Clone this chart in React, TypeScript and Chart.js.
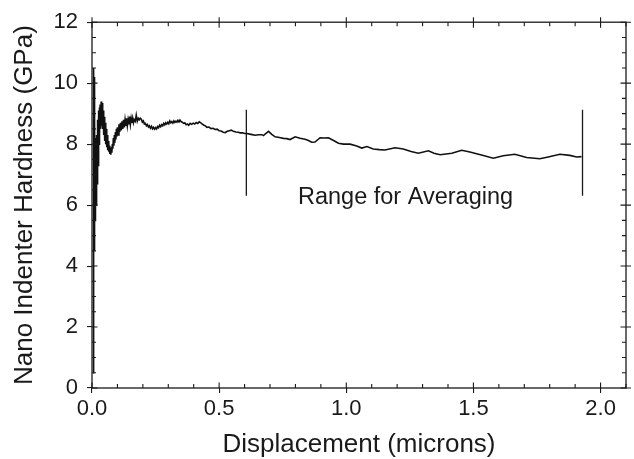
import { useEffect, useRef } from "react";
import { Chart, registerables } from "chart.js";

Chart.register(...registerables);

// Displacement (microns) and hardness (GPa)
const displacement = [
  0.004, 0.006, 0.005, 0.007, 0.006, 0.0075, 0.008, 0.0085, 0.009, 0.0095,
  0.01, 0.0105, 0.011, 0.0115, 0.012, 0.0125, 0.013, 0.0135, 0.014, 0.015,
  0.016, 0.017, 0.018, 0.019, 0.02, 0.021, 0.022, 0.023, 0.024, 0.025,
  0.026, 0.027, 0.028, 0.029, 0.03, 0.032, 0.034, 0.036, 0.038, 0.04,
  0.042, 0.044, 0.046, 0.048, 0.05, 0.052, 0.054, 0.056, 0.058, 0.06,
  0.062, 0.064, 0.066, 0.068, 0.07, 0.072, 0.074, 0.076, 0.078, 0.08,
  0.082, 0.084, 0.086, 0.088, 0.09, 0.092, 0.094, 0.096, 0.098, 0.1,
  0.103, 0.106, 0.109, 0.112, 0.115, 0.118, 0.121, 0.124, 0.127, 0.13,
  0.133, 0.136, 0.139, 0.142, 0.145, 0.148, 0.151, 0.154, 0.157, 0.16,
  0.163, 0.166, 0.17, 0.174, 0.178, 0.182, 0.186, 0.19,
  0.194, 0.198, 0.202, 0.206, 0.21, 0.214, 0.218, 0.222, 0.226, 0.23,
  0.234, 0.238, 0.242, 0.246, 0.25, 0.254, 0.258, 0.262, 0.266, 0.27,
  0.274, 0.278, 0.282, 0.286, 0.29, 0.294, 0.298, 0.302, 0.306, 0.31,
  0.314, 0.318, 0.322, 0.326, 0.33, 0.334, 0.338, 0.342, 0.346, 0.35,
  0.355, 0.36, 0.365, 0.37, 0.375, 0.38, 0.386, 0.392, 0.398, 0.404,
  0.41, 0.416, 0.422, 0.428, 0.434, 0.44, 0.446, 0.452, 0.46, 0.468,
  0.476, 0.484, 0.492, 0.5, 0.508, 0.516, 0.524, 0.532, 0.54, 0.548,
  0.556, 0.566, 0.575, 0.583, 0.592, 0.6, 0.609,
  0.625, 0.642, 0.655, 0.668, 0.674, 0.694,
  0.707, 0.72, 0.737, 0.753, 0.766, 0.779, 0.799, 0.818, 0.838, 0.851,
  0.864, 0.877, 0.897, 0.913, 0.93, 0.95, 0.969, 0.989, 1.015, 1.041,
  1.061, 1.081, 1.106, 1.13, 1.152, 1.192, 1.224, 1.255, 1.283, 1.323,
  1.345, 1.369, 1.415, 1.454, 1.486, 1.539, 1.578, 1.617, 1.663, 1.709,
  1.761, 1.794, 1.84, 1.879, 1.906, 1.925,
];

const hardness = [
  0.5, 4.0, 1.5, 8.0, 3.0, 10.5, 5.0, 10.2, 4.5, 9.8,
  5.0, 9.3, 5.3, 8.7, 5.5, 8.2, 5.5, 7.8, 5.6, 7.6,
  6.0, 8.0, 6.3, 8.3, 6.7, 8.6, 7.0, 8.8, 7.3, 9.0,
  7.7, 9.1, 8.0, 9.2, 8.3, 9.3, 8.5, 9.4, 8.6, 9.35,
  8.5, 9.1, 8.3, 8.9, 8.1, 8.7, 8.0, 8.5, 7.9, 8.3,
  7.8, 8.1, 7.75, 7.95, 7.68, 7.85, 7.65, 7.9, 7.72, 8.0,
  7.85, 8.2, 7.95, 8.3, 8.05, 8.4, 8.15, 8.5, 8.25, 8.55,
  8.3, 8.65, 8.4, 8.7, 8.45, 8.75, 8.5, 8.8, 8.55, 8.8,
  8.6, 8.85, 8.6, 8.8, 8.65, 8.9, 8.65, 8.85, 8.7, 8.85,
  8.7, 8.8, 8.75, 8.95, 8.75, 8.85, 8.8, 8.85,
  8.82, 8.72, 8.76, 8.66, 8.68, 8.6, 8.64, 8.56, 8.6, 8.52,
  8.58, 8.5, 8.55, 8.49, 8.54, 8.5, 8.58, 8.54, 8.62, 8.57,
  8.64, 8.6, 8.68, 8.63, 8.7, 8.66, 8.72, 8.67, 8.76, 8.7,
  8.74, 8.69, 8.76, 8.71, 8.75, 8.72, 8.78, 8.73, 8.79, 8.74,
  8.72, 8.68, 8.7, 8.64, 8.66, 8.62, 8.68, 8.65, 8.69, 8.66,
  8.71, 8.68, 8.73, 8.7, 8.66, 8.62, 8.6, 8.55, 8.56, 8.51,
  8.52, 8.48, 8.49, 8.44, 8.43, 8.39, 8.38, 8.42, 8.44, 8.46,
  8.42, 8.4, 8.39, 8.37, 8.37, 8.35, 8.35,
  8.32, 8.29, 8.31, 8.31, 8.28, 8.42,
  8.32, 8.24, 8.22, 8.19, 8.18, 8.15, 8.24, 8.19, 8.16, 8.12,
  8.06, 8.07, 8.21, 8.2, 8.21, 8.12, 8.03, 8.0, 8.0, 7.94,
  7.87, 7.92, 7.84, 7.82, 7.81, 7.88, 7.84, 7.76, 7.7, 7.78,
  7.7, 7.65, 7.7, 7.8, 7.74, 7.63, 7.54, 7.62, 7.67, 7.56,
  7.52, 7.58, 7.67, 7.63, 7.58, 7.59,
];

// Averaging range markers
const rangeBounds = [0.607, 1.929];
const rangeLow = 6.31;
const rangeHigh = 9.13;
const rangeLabel = "Range for Averaging";
const rangeLabelPos = [0.81, 6.24];

const xTitle = "Displacement (microns)";
const yTitle = "Nano Indenter Hardness (GPa)";
const xMin = 0, xMax = 2.1, xStep = 0.5, xMinorStep = 0.1;
const yMin = 0, yMax = 12, yStep = 2, yMinorStep = 0.5;

const INK = "#1a1a1a";
const FONT = '"Liberation Sans", Arial, Helvetica, sans-serif';

const framePlugin = {
  id: "frameTicks",
  afterDraw(chart: any) {
    const { ctx, chartArea: a, scales } = chart;
    const xs = scales.x;
    const ys = scales.y;
    ctx.save();
    ctx.strokeStyle = INK;
    ctx.lineWidth = 1.3;
    ctx.strokeRect(a.left, a.top, a.right - a.left, a.bottom - a.top);
    ctx.lineWidth = 1.1;
    ctx.beginPath();
    const nx = Math.round((xMax - xMin) / xMinorStep);
    for (let i = 0; i <= nx; i++) {
      const v = xMin + i * xMinorStep;
      const px = xs.getPixelForValue(v);
      const major = Math.abs(v / xStep - Math.round(v / xStep)) < 1e-6;
      const len = major ? 5.5 : 4;
      ctx.moveTo(px, a.bottom);
      ctx.lineTo(px, a.bottom - len);
      ctx.moveTo(px, major ? a.top - 5 : a.top);
      ctx.lineTo(px, a.top + len);
    }
    const ny = Math.round((yMax - yMin) / yMinorStep);
    for (let i = 0; i <= ny; i++) {
      const v = yMin + i * yMinorStep;
      const py = ys.getPixelForValue(v);
      const major = Math.abs(v / yStep - Math.round(v / yStep)) < 1e-6;
      const len = major ? 5.5 : 4;
      ctx.moveTo(a.left, py);
      ctx.lineTo(a.left + len, py);
      ctx.moveTo(major ? a.right + 5 : a.right, py);
      ctx.lineTo(a.right - len, py);
    }
    ctx.stroke();
    ctx.fillStyle = INK;
    ctx.font = `23.5px ${FONT}`;
    ctx.textAlign = "left";
    ctx.textBaseline = "middle";
    ctx.fillText(
      rangeLabel,
      xs.getPixelForValue(rangeLabelPos[0]),
      ys.getPixelForValue(rangeLabelPos[1])
    );
    ctx.restore();
  },
};

export default function App() {
  const ref = useRef<HTMLCanvasElement | null>(null);
  useEffect(() => {
    if (!ref.current) return;
    const n = Math.min(displacement.length, hardness.length);
    const curve = displacement.slice(0, n).map((x, i) => ({ x, y: hardness[i] }));
    const markers = rangeBounds.map((x) => ({
      type: "line" as const,
      data: [
        { x, y: rangeLow },
        { x, y: rangeHigh },
      ],
      borderColor: INK,
      borderWidth: 1.3,
      pointRadius: 0,
      fill: false,
    }));
    const chart = new Chart(ref.current, {
      type: "line",
      data: {
        datasets: [
          {
            data: curve,
            borderColor: "#111",
            borderWidth: 1.6,
            pointRadius: 0,
            tension: 0,
            fill: false,
          },
          ...markers,
        ],
      },
      options: {
        animation: false,
        responsive: false,
        events: [],
        layout: { padding: { top: 14, right: 8, left: 0, bottom: 0 } },
        plugins: {
          legend: { display: false },
          tooltip: { enabled: false },
        },
        scales: {
          x: {
            type: "linear",
            min: xMin,
            max: xMax,
            afterFit: (s: any) => {
              s.height = 71;
            },
            border: { display: false },
            grid: {
              drawOnChartArea: false,
              drawTicks: true,
              tickLength: 5,
              color: INK,
              lineWidth: 1.1,
            },
            ticks: {
              stepSize: xStep,
              includeBounds: false,
              padding: 3,
              maxRotation: 0,
              color: INK,
              font: { family: FONT, size: 22 },
              callback: (v: any) => Number(v).toFixed(1),
            },
            title: {
              display: true,
              text: xTitle,
              color: INK,
              font: { family: FONT, size: 26, lineHeight: 1.1 },
              padding: { top: 0, bottom: 0 },
            },
          },
          y: {
            type: "linear",
            min: yMin,
            max: yMax,
            afterFit: (s: any) => {
              s.width = 92;
            },
            border: { display: false },
            grid: {
              drawOnChartArea: false,
              drawTicks: true,
              tickLength: 5,
              color: INK,
              lineWidth: 1.1,
            },
            ticks: {
              stepSize: yStep,
              includeBounds: false,
              padding: 9,
              color: INK,
              font: { family: FONT, size: 22 },
            },
            title: {
              display: true,
              text: yTitle,
              color: INK,
              font: { family: FONT, size: 26, lineHeight: 1.2 },
              padding: { top: 9, bottom: 0 },
            },
          },
        },
      },
      plugins: [framePlugin],
    });
    return () => chart.destroy();
  }, []);
  return (
    <canvas
      ref={ref}
      width={634}
      height={459}
      style={{ position: "absolute", left: 0, top: 0, width: 634, height: 459 }}
    />
  );
}
